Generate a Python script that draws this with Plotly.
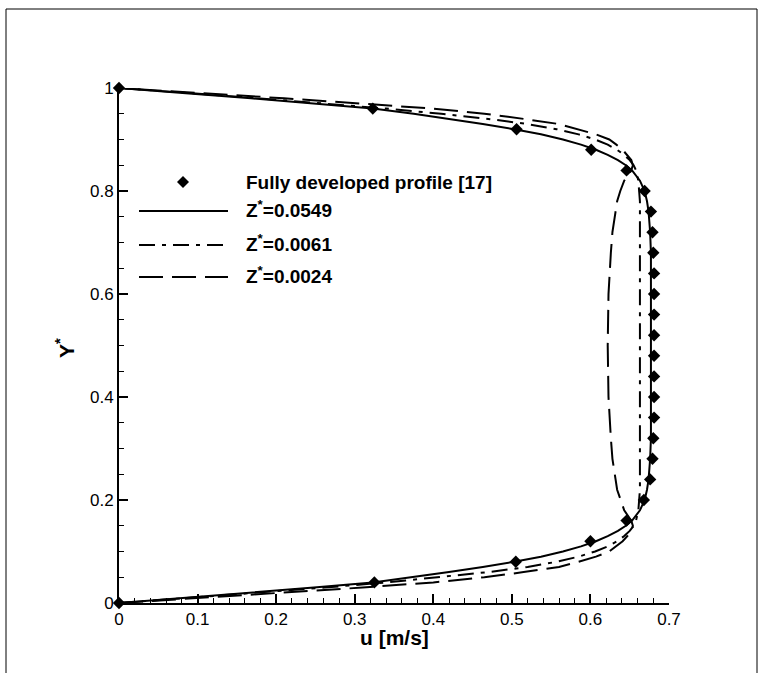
import plotly.graph_objects as go

# ---------------- data ----------------
fd_y = [0.00, 0.04, 0.08, 0.12, 0.16, 0.20, 0.24, 0.28, 0.32, 0.36, 0.40, 0.44, 0.48,
        0.52, 0.56, 0.60, 0.64, 0.68, 0.72, 0.76, 0.80, 0.84, 0.88, 0.92, 0.96, 1.00]
fd_u = [0.000, 0.325, 0.505, 0.600, 0.646, 0.668, 0.676, 0.679, 0.680, 0.681, 0.681, 0.681, 0.681,
        0.681, 0.681, 0.681, 0.681, 0.680, 0.679, 0.677, 0.669, 0.646, 0.601, 0.506, 0.323, 0.000]

y_prof = [0.00, 0.01, 0.02, 0.03, 0.04, 0.05, 0.06, 0.07, 0.08, 0.09, 0.10, 0.11, 0.12,
          0.13, 0.14, 0.15, 0.16, 0.18, 0.20, 0.22, 0.24, 0.28, 0.32, 0.40, 0.50,
          0.60, 0.68, 0.72, 0.76, 0.78, 0.80, 0.82, 0.84, 0.85, 0.86, 0.87, 0.88,
          0.89, 0.90, 0.91, 0.92, 0.93, 0.94, 0.95, 0.96, 0.97, 0.98, 0.99, 1.00]

u_z0549 = [0.000, 0.085, 0.168, 0.248, 0.323, 0.375, 0.420, 0.463, 0.503, 0.537, 0.565, 0.588, 0.607,
           0.622, 0.635, 0.645, 0.653, 0.663, 0.669, 0.672, 0.674, 0.676, 0.677, 0.677, 0.677,
           0.677, 0.677, 0.676, 0.674, 0.672, 0.669, 0.663, 0.653, 0.645, 0.635, 0.622, 0.607,
           0.588, 0.565, 0.537, 0.503, 0.463, 0.420, 0.375, 0.323, 0.248, 0.168, 0.085, 0.000]

u_z0061 = [0.000, 0.090, 0.178, 0.262, 0.340, 0.410, 0.470, 0.520, 0.557, 0.585, 0.606, 0.622, 0.634,
           0.643, 0.650, 0.655, 0.658, 0.661, 0.662, 0.663, 0.663, 0.663, 0.663, 0.663, 0.663,
           0.663, 0.663, 0.663, 0.663, 0.663, 0.662, 0.661, 0.658, 0.655, 0.650, 0.643, 0.634,
           0.622, 0.606, 0.585, 0.557, 0.520, 0.470, 0.410, 0.340, 0.262, 0.178, 0.090, 0.000]

u_z0024 = [0.000, 0.105, 0.210, 0.310, 0.400, 0.465, 0.515, 0.560, 0.585, 0.607, 0.624, 0.633, 0.641,
           0.647, 0.652, 0.654, 0.652, 0.643, 0.638, 0.634, 0.632, 0.628, 0.626, 0.623, 0.622,
           0.623, 0.626, 0.628, 0.632, 0.634, 0.638, 0.643, 0.652, 0.654, 0.652, 0.647, 0.641,
           0.633, 0.624, 0.607, 0.585, 0.560, 0.515, 0.465, 0.400, 0.310, 0.210, 0.105, 0.000]

x_ticks = [0, 0.1, 0.2, 0.3, 0.4, 0.5, 0.6, 0.7]
x_tick_labels = ["0", "0.1", "0.2", "0.3", "0.4", "0.5", "0.6", "0.7"]
y_ticks = [0, 0.2, 0.4, 0.6, 0.8, 1.0]
y_tick_labels = ["0", "0.2", "0.4", "0.6", "0.8", "1"]

legend_labels = ["Fully developed profile [17]", "Z<sup>*</sup>=0.0549",
                 "Z<sup>*</sup>=0.0061", "Z<sup>*</sup>=0.0024"]

# ---------------- layout constants ----------------
W, H = 759, 673
ML, MR, MT, MB = 119, 90, 88, 70
PW, PH = W - ML - MR, H - MT - MB
FONT = "Liberation Sans, Arial, sans-serif"
DASHDOT = "16px,7px,4px,7px"
DASHED = "24px,9px"


def px_x(px):
    return (px - ML) / PW


def px_y(py):
    return (H - MB - py) / PH


fig = go.Figure()

fig.add_trace(go.Scatter(x=u_z0024, y=y_prof, mode="lines",
                         line=dict(color="black", width=2, dash=DASHED),
                         showlegend=False, cliponaxis=False, hoverinfo="skip"))
fig.add_trace(go.Scatter(x=u_z0061, y=y_prof, mode="lines",
                         line=dict(color="black", width=2, dash=DASHDOT),
                         showlegend=False, cliponaxis=False, hoverinfo="skip"))
fig.add_trace(go.Scatter(x=u_z0549, y=y_prof, mode="lines",
                         line=dict(color="black", width=2),
                         showlegend=False, cliponaxis=False, hoverinfo="skip"))
fig.add_trace(go.Scatter(x=fd_u, y=fd_y, mode="markers",
                         marker=dict(symbol="diamond", size=9.5, color="black"),
                         showlegend=False, cliponaxis=False, hoverinfo="skip"))

# ---------------- custom legend ----------------
shapes = []
annotations = []
rows_py = [182, 211, 245, 277]
line_x0, line_x1 = 139, 228
text_x = 244
# diamond symbol
dcx, dcy, dr = 183, rows_py[0], 6
shapes.append(dict(type="path", xref="paper", yref="paper",
                   path="M {a},{b} L {c},{d} L {a},{e} L {f},{d} Z".format(
                       a=px_x(dcx), b=px_y(dcy - dr), c=px_x(dcx + dr), d=px_y(dcy),
                       e=px_y(dcy + dr), f=px_x(dcx - dr)),
                   fillcolor="black", line=dict(color="black", width=0)))
for py, dash in zip(rows_py[1:], ["solid", DASHDOT, DASHED]):
    shapes.append(dict(type="line", xref="paper", yref="paper",
                       x0=px_x(line_x0), x1=px_x(line_x1), y0=px_y(py), y1=px_y(py),
                       line=dict(color="black", width=2, dash=dash)))
for i, (py, lab) in enumerate(zip(rows_py, legend_labels)):
    annotations.append(dict(xref="paper", yref="paper", x=px_x(text_x),
                            y=px_y(py - (0 if i == 0 else 2)),
                            text="<b>" + lab + "</b>", showarrow=False,
                            xanchor="left", yanchor="middle",
                            font=dict(family=FONT, size=19, color="black")))

# axis titles
annotations.append(dict(xref="paper", yref="paper", x=0.5, y=px_y(637),
                        text="<b>u [m/s]</b>", showarrow=False,
                        xanchor="center", yanchor="middle",
                        font=dict(family=FONT, size=21, color="black")))
annotations.append(dict(xref="paper", yref="paper", x=px_x(65), y=px_y(348),
                        text="<b>Y<sup>*</sup></b>", showarrow=False, textangle=-90,
                        xanchor="center", yanchor="middle",
                        font=dict(family=FONT, size=21, color="black")))

# outer frame (left, top, right edges)
shapes.append(dict(type="path", xref="paper", yref="paper",
                   path="M {x0},{yb} L {x0},{yt} L {x1},{yt} L {x1},{yb}".format(
                       x0=px_x(6), x1=px_x(757), yt=px_y(9), yb=px_y(690)),
                   line=dict(color="black", width=1), layer="below"))

fig.update_layout(
    width=W, height=H,
    margin=dict(l=ML, r=MR, t=MT, b=MB, pad=0),
    paper_bgcolor="white", plot_bgcolor="white",
    font=dict(family=FONT, size=17, color="black"),
    shapes=shapes, annotations=annotations,
    showlegend=False, hovermode=False,
)
fig.update_xaxes(range=[0, 0.7], tickvals=x_ticks, ticktext=x_tick_labels,
                 ticks="inside", ticklen=9, tickwidth=2, tickcolor="black",
                 showline=True, linecolor="black", linewidth=2, mirror=False,
                 showgrid=False, zeroline=False,
                 minor=dict(dtick=0.02, ticks="inside", ticklen=5, tickwidth=1, tickcolor="black"),
                 tickfont=dict(family=FONT, size=17, color="black"))
fig.update_yaxes(range=[0, 1], tickvals=y_ticks, ticktext=y_tick_labels,
                 ticks="inside", ticklen=9, tickwidth=2, tickcolor="black",
                 showline=True, linecolor="black", linewidth=2, mirror=False,
                 showgrid=False, zeroline=False,
                 minor=dict(dtick=0.05, ticks="inside", ticklen=5, tickwidth=1, tickcolor="black"),
                 tickfont=dict(family=FONT, size=17, color="black"))

fig.write_html("out.html", config={"displayModeBar": False, "staticPlot": True},
               post_script="document.body.style.margin='0';document.body.style.overflow='hidden';")
